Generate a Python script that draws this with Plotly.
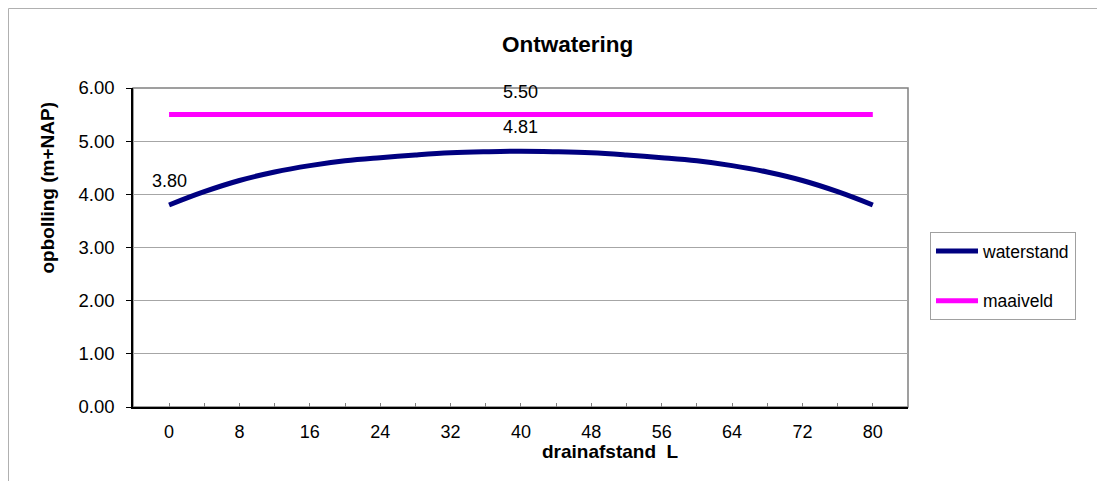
import plotly.graph_objects as go

# ---- data ----
drainafstand = [0, 4, 8, 12, 16, 20, 24, 28, 32, 36, 40, 44, 48, 52, 56, 60, 64, 68, 72, 76, 80]
waterstand = [3.80, 4.05, 4.26, 4.42, 4.54, 4.63, 4.69, 4.74, 4.78, 4.80, 4.81,
              4.80, 4.78, 4.74, 4.69, 4.63, 4.54, 4.42, 4.26, 4.05, 3.80]
maaiveld = [5.50, 5.50, 5.50, 5.50, 5.50, 5.50, 5.50, 5.50, 5.50, 5.50, 5.50,
            5.50, 5.50, 5.50, 5.50, 5.50, 5.50, 5.50, 5.50, 5.50, 5.50]
waterstand_labels_at = [0, 40]
maaiveld_labels_at = [40]
x_tick_labels = ["0", "", "8", "", "16", "", "24", "", "32", "", "40",
                 "", "48", "", "56", "", "64", "", "72", "", "80"]
y_ticks = [0, 1, 2, 3, 4, 5, 6]

FONT = "Liberation Sans, Arial, sans-serif"
OFF = 8  # page body margin
W, H = 1105 - OFF, 481 - OFF
L, R, T, B = 133 - OFF, 197, 88 - OFF, 74
PW, PH = W - L - R, H - T - B


def px_to_paper_x(px):
    # px given in screenshot coordinates
    return (px - OFF - L) / PW


def px_to_paper_y(py):
    return (H - B - (py - OFF)) / PH


fig = go.Figure()
fig.add_trace(go.Scatter(
    x=drainafstand, y=waterstand, name="waterstand", mode="lines",
    line=dict(color="#000080", width=5, shape="spline", smoothing=1.1),
    legendgroup="a"))
fig.add_trace(go.Scatter(
    x=drainafstand, y=maaiveld, name="maaiveld", mode="lines",
    line=dict(color="#FF00FF", width=5),
    legendgroup="b"))

annotations = []
for xv in waterstand_labels_at:
    i = drainafstand.index(xv)
    annotations.append(dict(x=xv, y=waterstand[i], xref="x", yref="y",
                            text=f"{waterstand[i]:.2f}", showarrow=False,
                            yshift=24, font=dict(family=FONT, size=18, color="#000")))
for xv in maaiveld_labels_at:
    i = drainafstand.index(xv)
    annotations.append(dict(x=xv, y=maaiveld[i], xref="x", yref="y",
                            text=f"{maaiveld[i]:.2f}", showarrow=False,
                            yshift=23, font=dict(family=FONT, size=18, color="#000")))

# title
annotations.append(dict(x=px_to_paper_x(567.5), y=px_to_paper_y(44.5), xref="paper", yref="paper",
                        text="<b>Ontwatering</b>", showarrow=False,
                        xanchor="center", yanchor="middle",
                        font=dict(family=FONT, size=22.5, color="#000")))
# x axis title
annotations.append(dict(x=px_to_paper_x(610), y=px_to_paper_y(451), xref="paper", yref="paper",
                        text="<b>drainafstand  L</b>", showarrow=False,
                        xanchor="center", yanchor="middle",
                        font=dict(family=FONT, size=19, color="#000")))
# y axis title
annotations.append(dict(x=px_to_paper_x(47), y=px_to_paper_y(187.5), xref="paper", yref="paper",
                        text="<b>opbolling (m+NAP)</b>", showarrow=False, textangle=-90,
                        xanchor="center", yanchor="middle",
                        font=dict(family=FONT, size=19, color="#000")))

shapes = [
    # plot area frame (grey)
    dict(type="rect", xref="paper", yref="paper", x0=0, x1=1, y0=0, y1=1,
         line=dict(color="#808080", width=1.5), layer="below"),
    # chart area border (top and left visible)
    dict(type="line", xref="paper", yref="paper",
         x0=px_to_paper_x(8.5), x1=px_to_paper_x(1110), y0=px_to_paper_y(8.5), y1=px_to_paper_y(8.5),
         line=dict(color="#b0b0b0", width=1)),
    dict(type="line", xref="paper", yref="paper",
         x0=px_to_paper_x(8.5), x1=px_to_paper_x(8.5), y0=px_to_paper_y(8.5), y1=px_to_paper_y(490),
         line=dict(color="#b0b0b0", width=1)),
]

fig.update_layout(
    width=W, height=H,
    margin=dict(l=L, r=R, t=T, b=B),
    paper_bgcolor="white", plot_bgcolor="white",
    font=dict(family=FONT, size=18, color="#000"),
    annotations=annotations,
    shapes=shapes,
    showlegend=True,
    legend=dict(
        x=px_to_paper_x(930), y=px_to_paper_y(232), xanchor="left", yanchor="top",
        bordercolor="#a0a0a0", borderwidth=1, bgcolor="white",
        font=dict(family=FONT, size=17.5, color="#000"),
        tracegroupgap=24, itemwidth=42, traceorder="grouped",
        entrywidth=110, entrywidthmode="pixels",
    ),
    xaxis=dict(
        range=[-4.1, 84], tickmode="array", tickvals=drainafstand, ticktext=x_tick_labels,
        ticks="inside", ticklen=4, tickcolor="#808080", tickwidth=1,
        showgrid=False, zeroline=False,
        showline=True, linecolor="#000", linewidth=1.5,
        tickfont=dict(family=FONT, size=18, color="#000"),
        ticklabelstandoff=8,
    ),
    yaxis=dict(
        range=[0, 6], tickmode="array", tickvals=y_ticks, tickformat=".2f",
        ticks="outside", ticklen=5, tickcolor="#000", tickwidth=1,
        showgrid=True, gridcolor="#a6a6a6", gridwidth=1, zeroline=False,
        showline=True, linecolor="#000", linewidth=1.5,
        tickfont=dict(family=FONT, size=18.5, color="#000"),
        ticklabelstandoff=8,
    ),
)

fig.write_html("out.html")
